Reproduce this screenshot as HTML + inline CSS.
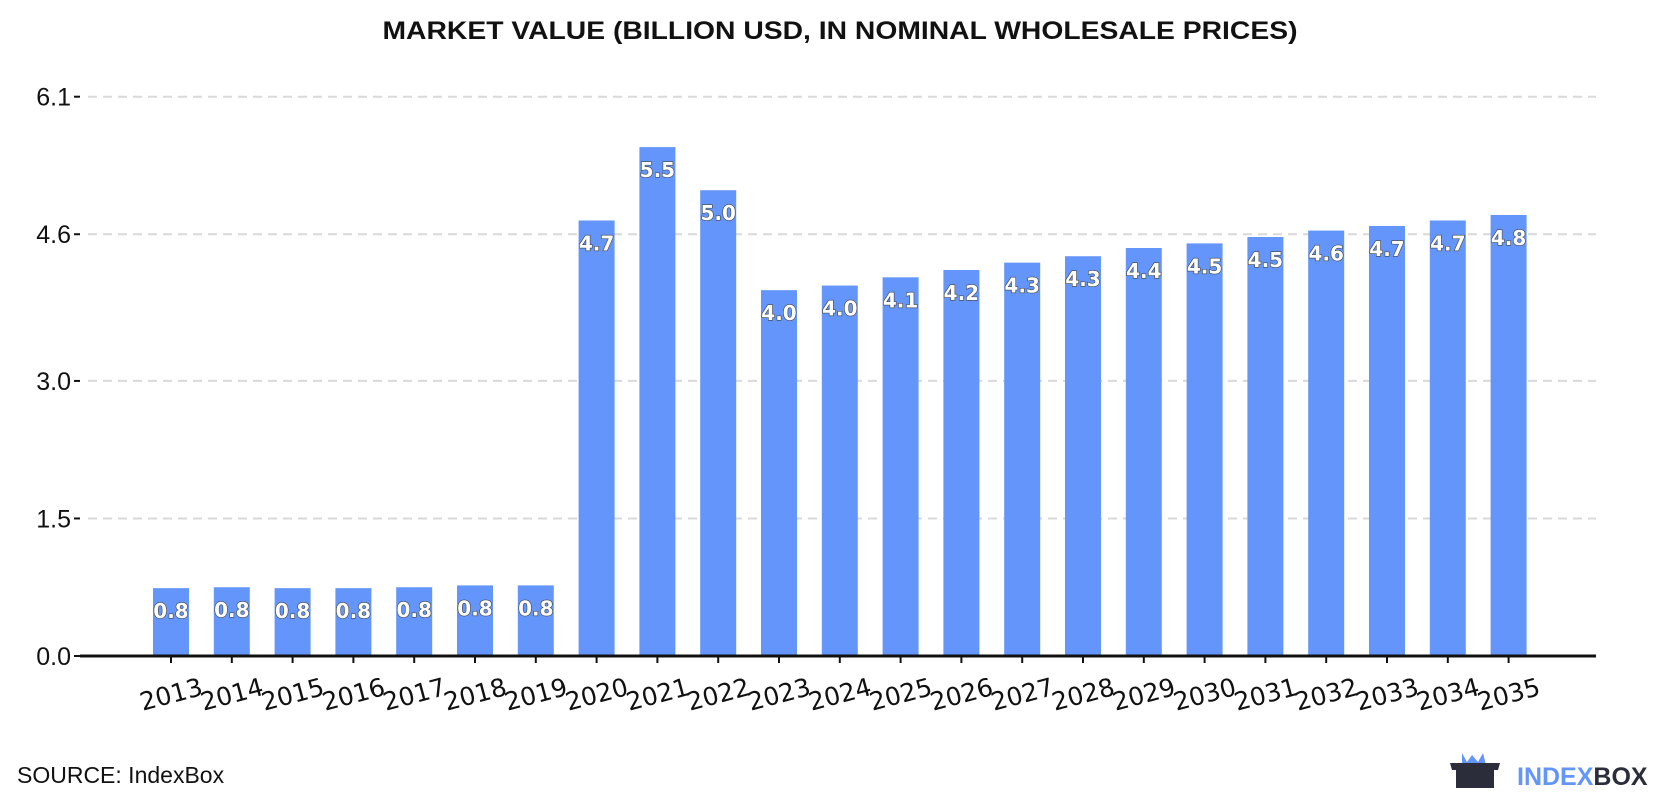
<!DOCTYPE html>
<html><head><meta charset="utf-8"><style>
body{margin:0;background:#fff;width:1680px;height:800px;overflow:hidden;font-family:"Liberation Sans",sans-serif}
</style></head><body>
<svg id="chart" width="1680" height="800" xmlns="http://www.w3.org/2000/svg">
<text x="840" y="39" text-anchor="middle" font-size="25" font-weight="bold" fill="#111" textLength="915" lengthAdjust="spacingAndGlyphs">MARKET VALUE (BILLION USD, IN NOMINAL WHOLESALE PRICES)</text>
<g id="grid"></g><g id="bars"></g><g id="xaxis"></g>
<text x="17" y="783" font-size="23" fill="#111">SOURCE: IndexBox</text>
<g>
<path d="M1462 753 L1467 762 L1472 755 L1478 762 L1483 753 L1486 765 L1462 765 Z" fill="#6395fa"/>
<path d="M1450 763 L1500 763 L1498 770 L1494 770 L1494 788 L1456 788 L1456 770 L1452 770 Z" fill="#2b2d3a"/>
<text x="1517" y="785" font-size="25" font-weight="bold" fill="#6395fa">INDEX<tspan fill="#2b2d3a">BOX</tspan></text>
</g>
</svg>
<script>
const categories=["2013","2014","2015","2016","2017","2018","2019","2020","2021","2022","2023","2024","2025","2026","2027","2028","2029","2030","2031","2032","2033","2034","2035"];
const values=[0.74,0.75,0.74,0.74,0.75,0.77,0.77,4.75,5.55,5.08,3.99,4.04,4.13,4.21,4.29,4.36,4.45,4.50,4.57,4.64,4.69,4.75,4.81];
const labels=["0.8","0.8","0.8","0.8","0.8","0.8","0.8","4.7","5.5","5.0","4.0","4.0","4.1","4.2","4.3","4.3","4.4","4.5","4.5","4.6","4.7","4.7","4.8"];
const yTicks=[0,1.5,3.0,4.6,6.1];
const yTickLabels=["0.0","1.5","3.0","4.6","6.1"];
const NS="http://www.w3.org/2000/svg";
const x0=80,x1=1596,y0=656,yTop=96.7,yMax=6.1;
const y=v=>y0-(v/yMax)*(y0-yTop);
const step=60.8,first=171,bw=36;
const x=i=>first+i*step;
function mk(t,a,p){const e=document.createElementNS(NS,t);for(const k in a)e.setAttribute(k,a[k]);p.appendChild(e);return e;}
const grid=document.getElementById('grid'),bars=document.getElementById('bars'),xa=document.getElementById('xaxis');
yTicks.forEach((v,i)=>{
  if(v>0){const l=mk('line',{x1:x0+8,x2:x1,y1:y(v),y2:y(v),stroke:'#d9d9d9','stroke-width':2,'stroke-dasharray':'9,6'},grid);
  
  }
  const tk=mk('line',{x1:x0-6,x2:x0,y1:y(v),y2:y(v),stroke:'#111','stroke-width':2},grid);
  
  
  const t=mk('text',{x:x0-9,y:y(v)+9,'text-anchor':'end','font-size':25,fill:'#111'},grid);
  t.textContent=yTickLabels[i];
  
  
});
values.forEach((v,i)=>{
  const r=mk('rect',{x:x(i)-bw/2,y:y(v),width:bw,height:y0-y(v),fill:'#6395fa'},bars);
  
  
  const t=mk('text',{x:x(i),y:y(v)+30,'text-anchor':'middle','font-size':20,'font-weight':'bold',fill:'#fff',stroke:'#444','stroke-width':1.2,'paint-order':'stroke','font-family':'DejaVu Sans, sans-serif'},bars);
  t.textContent=labels[i];
  
  
  const tk=mk('line',{x1:x(i),x2:x(i),y1:y0,y2:y0+7,stroke:'#111','stroke-width':2},xa);
  
  
  const lt=mk('text',{x:x(i),y:y0+47,'text-anchor':'middle','font-size':25,fill:'#111',transform:`rotate(-15 ${x(i)} ${y0+38})`,'font-family':'DejaVu Sans, sans-serif'},xa);
  lt.textContent=categories[i];
  
  
});
const ax=mk('line',{x1:x0,x2:x1,y1:y0,y2:y0,stroke:'#111','stroke-width':3},xa);


</script>
</body></html>
